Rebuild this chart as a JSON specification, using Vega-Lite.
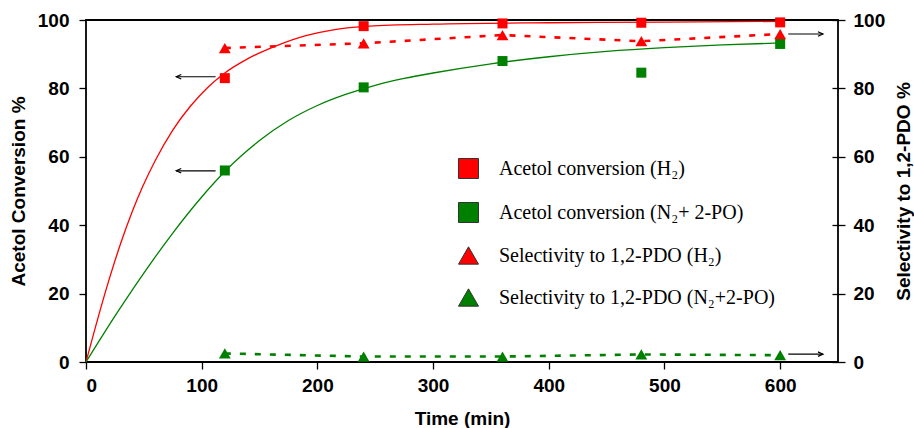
{
  "$schema": "https://vega.github.io/schema/vega-lite/v6.json",
  "width": 752,
  "height": 342,
  "autosize": {"type": "none"},
  "padding": {"left": 86, "top": 20, "right": 76, "bottom": 66},
  "background": "white",
  "datasets": {
    "curves": [
      {"t": 0, "v": 0, "c": "H2"}, {"t": 18, "v": 21.9, "c": "H2"}, {"t": 30, "v": 34.7, "c": "H2"}, {"t": 40, "v": 44, "c": "H2"},
      {"t": 49, "v": 51.3, "c": "H2"}, {"t": 60, "v": 59, "c": "H2"}, {"t": 75, "v": 67.8, "c": "H2"}, {"t": 90, "v": 74.7, "c": "H2"},
      {"t": 105, "v": 80.2, "c": "H2"}, {"t": 120, "v": 84.5, "c": "H2"}, {"t": 140, "v": 88.7, "c": "H2"}, {"t": 165, "v": 92.5, "c": "H2"},
      {"t": 190, "v": 95.4, "c": "H2"}, {"t": 215, "v": 97.2, "c": "H2"}, {"t": 245, "v": 98.2, "c": "H2"}, {"t": 300, "v": 98.8, "c": "H2"},
      {"t": 400, "v": 99.2, "c": "H2"}, {"t": 500, "v": 99.4, "c": "H2"}, {"t": 600, "v": 99.6, "c": "H2"},
      {"t": 0, "v": 0, "c": "N2"}, {"t": 25, "v": 13.4, "c": "N2"}, {"t": 50, "v": 26, "c": "N2"}, {"t": 75, "v": 37.7, "c": "N2"},
      {"t": 100, "v": 48.25, "c": "N2"}, {"t": 120, "v": 55.7, "c": "N2"}, {"t": 135, "v": 60.5, "c": "N2"}, {"t": 150, "v": 64.75, "c": "N2"},
      {"t": 175, "v": 70.6, "c": "N2"}, {"t": 200, "v": 75, "c": "N2"}, {"t": 225, "v": 78.3, "c": "N2"}, {"t": 250, "v": 80.9, "c": "N2"},
      {"t": 275, "v": 82.9, "c": "N2"}, {"t": 300, "v": 84.5, "c": "N2"}, {"t": 350, "v": 87.2, "c": "N2"}, {"t": 400, "v": 89.25, "c": "N2"},
      {"t": 450, "v": 90.8, "c": "N2"}, {"t": 500, "v": 91.9, "c": "N2"}, {"t": 550, "v": 92.7, "c": "N2"}, {"t": 600, "v": 93.3, "c": "N2"}
    ],
    "markers": [
      {"t": 120, "v": 83, "kind": "conv", "gas": "H2", "series": "Acetol conversion (H₂)"},
      {"t": 240, "v": 98.2, "kind": "conv", "gas": "H2", "series": "Acetol conversion (H₂)"},
      {"t": 360, "v": 99, "kind": "conv", "gas": "H2", "series": "Acetol conversion (H₂)"},
      {"t": 480, "v": 99.2, "kind": "conv", "gas": "H2", "series": "Acetol conversion (H₂)"},
      {"t": 600, "v": 99.3, "kind": "conv", "gas": "H2", "series": "Acetol conversion (H₂)"},
      {"t": 120, "v": 56, "kind": "conv", "gas": "N2", "series": "Acetol conversion (N₂+ 2-PO)"},
      {"t": 240, "v": 80.3, "kind": "conv", "gas": "N2", "series": "Acetol conversion (N₂+ 2-PO)"},
      {"t": 360, "v": 88, "kind": "conv", "gas": "N2", "series": "Acetol conversion (N₂+ 2-PO)"},
      {"t": 480, "v": 84.6, "kind": "conv", "gas": "N2", "series": "Acetol conversion (N₂+ 2-PO)"},
      {"t": 600, "v": 93, "kind": "conv", "gas": "N2", "series": "Acetol conversion (N₂+ 2-PO)"},
      {"t": 120, "v": 91.8, "kind": "sel", "gas": "H2", "series": "Selectivity to 1,2-PDO (H₂)"},
      {"t": 240, "v": 93.2, "kind": "sel", "gas": "H2", "series": "Selectivity to 1,2-PDO (H₂)"},
      {"t": 360, "v": 95.6, "kind": "sel", "gas": "H2", "series": "Selectivity to 1,2-PDO (H₂)"},
      {"t": 480, "v": 93.8, "kind": "sel", "gas": "H2", "series": "Selectivity to 1,2-PDO (H₂)"},
      {"t": 600, "v": 95.9, "kind": "sel", "gas": "H2", "series": "Selectivity to 1,2-PDO (H₂)"},
      {"t": 120, "v": 2.5, "kind": "sel", "gas": "N2", "series": "Selectivity to 1,2-PDO (N₂+2-PO)"},
      {"t": 240, "v": 1.6, "kind": "sel", "gas": "N2", "series": "Selectivity to 1,2-PDO (N₂+2-PO)"},
      {"t": 360, "v": 1.6, "kind": "sel", "gas": "N2", "series": "Selectivity to 1,2-PDO (N₂+2-PO)"},
      {"t": 480, "v": 2.2, "kind": "sel", "gas": "N2", "series": "Selectivity to 1,2-PDO (N₂+2-PO)"},
      {"t": 600, "v": 2.0, "kind": "sel", "gas": "N2", "series": "Selectivity to 1,2-PDO (N₂+2-PO)"}
    ],
    "arrows": [
      {"t": 112, "t2": 78, "v": 83.4, "dir": "left"},
      {"t": 112, "t2": 78, "v": 55.9, "dir": "left"},
      {"t": 607, "t2": 637, "v": 95.9, "dir": "right"},
      {"t": 607, "t2": 637, "v": 2.3, "dir": "right"}
    ]
  },
  "layer": [
    {
      "layer": [
        {
          "data": {"name": "curves"},
          "transform": [{"filter": "datum.c === 'H2'"}],
          "mark": {"type": "line", "color": "#ff0000", "strokeWidth": 1.3, "interpolate": "monotone"},
          "encoding": {
            "x": {"field": "t", "type": "quantitative", "scale": {"domain": [0, 650], "nice": false},
                  "axis": {"title": "Time (min)", "values": [0, 100, 200, 300, 400, 500, 600], "labelPadding": 7, "titlePadding": 14}},
            "y": {"field": "v", "type": "quantitative", "scale": {"domain": [0, 100], "nice": false},
                  "axis": {"title": "Acetol Conversion %", "values": [0, 20, 40, 60, 80, 100], "labelPadding": 10, "titlePadding": 9}}
          }
        },
        {
          "data": {"name": "curves"},
          "transform": [{"filter": "datum.c === 'N2'"}],
          "mark": {"type": "line", "color": "#008000", "strokeWidth": 1.3, "interpolate": "monotone"},
          "encoding": {
            "x": {"field": "t", "type": "quantitative"},
            "y": {"field": "v", "type": "quantitative"}
          }
        },
        {
          "data": {"name": "arrows"},
          "transform": [{"filter": "datum.dir === 'left'"}],
          "mark": {"type": "rule", "color": "#000", "strokeWidth": 1.2},
          "encoding": {
            "x": {"field": "t", "type": "quantitative"},
            "x2": {"field": "t2"},
            "y": {"field": "v", "type": "quantitative"}
          }
        },
        {
          "data": {"name": "arrows"},
          "transform": [{"filter": "datum.dir === 'left'"}],
          "mark": {"type": "point", "shape": "M1,-0.45L0,0L1,0.45", "filled": false, "stroke": "#000", "strokeWidth": 1.2, "size": 100, "opacity": 1},
          "encoding": {
            "x": {"field": "t2", "type": "quantitative"},
            "y": {"field": "v", "type": "quantitative"}
          }
        },
        {
          "data": {"name": "markers"},
          "transform": [{"filter": "datum.kind === 'conv'"}],
          "mark": {"type": "point", "filled": true, "size": 100, "opacity": 1},
          "encoding": {
            "x": {"field": "t", "type": "quantitative"},
            "y": {"field": "v", "type": "quantitative"},
            "color": {"field": "series", "type": "nominal", "title": null,
              "scale": {"domain": ["Acetol conversion (H₂)", "Acetol conversion (N₂+ 2-PO)", "Selectivity to 1,2-PDO (H₂)", "Selectivity to 1,2-PDO (N₂+2-PO)"],
                        "range": ["#ff0000", "#008000", "#ff0000", "#008000"]}},
            "shape": {"field": "series", "type": "nominal", "title": null,
              "scale": {"domain": ["Acetol conversion (H₂)", "Acetol conversion (N₂+ 2-PO)", "Selectivity to 1,2-PDO (H₂)", "Selectivity to 1,2-PDO (N₂+2-PO)"],
                        "range": ["square", "square", "triangle-up", "triangle-up"]}}
          }
        }
      ]
    },
    {
      "layer": [
        {
          "data": {"name": "markers"},
          "transform": [{"filter": "datum.kind === 'sel' && datum.gas === 'H2'"}],
          "mark": {"type": "line", "color": "#ff0000", "strokeWidth": 2.6, "strokeDash": [6, 9]},
          "encoding": {
            "x": {"field": "t", "type": "quantitative"},
            "y": {"field": "v", "type": "quantitative", "scale": {"domain": [0, 100], "nice": false},
                  "axis": {"orient": "right", "title": "Selectivity to 1,2-PDO   %", "values": [0, 20, 40, 60, 80, 100],
                           "offset": -6, "tickSize": 13, "labelPadding": 8, "titlePadding": 29, "titleAngle": 270}}
          }
        },
        {
          "data": {"name": "markers"},
          "transform": [{"filter": "datum.kind === 'sel' && datum.gas === 'N2'"}],
          "mark": {"type": "line", "color": "#008000", "strokeWidth": 2.6, "strokeDash": [6, 9]},
          "encoding": {
            "x": {"field": "t", "type": "quantitative"},
            "y": {"field": "v", "type": "quantitative"}
          }
        },
        {
          "data": {"name": "arrows"},
          "transform": [{"filter": "datum.dir === 'right'"}],
          "mark": {"type": "rule", "color": "#000", "strokeWidth": 1.2},
          "encoding": {
            "x": {"field": "t", "type": "quantitative"},
            "x2": {"field": "t2"},
            "y": {"field": "v", "type": "quantitative"}
          }
        },
        {
          "data": {"name": "arrows"},
          "transform": [{"filter": "datum.dir === 'right'"}],
          "mark": {"type": "point", "shape": "M-1,-0.45L0,0L-1,0.45", "filled": false, "stroke": "#000", "strokeWidth": 1.2, "size": 100, "opacity": 1},
          "encoding": {
            "x": {"field": "t2", "type": "quantitative"},
            "y": {"field": "v", "type": "quantitative"}
          }
        },
        {
          "data": {"name": "markers"},
          "transform": [{"filter": "datum.kind === 'sel'"}],
          "mark": {"type": "point", "filled": true, "size": 140, "opacity": 1},
          "encoding": {
            "x": {"field": "t", "type": "quantitative"},
            "y": {"field": "v", "type": "quantitative"},
            "color": {"field": "series", "type": "nominal", "title": null},
            "shape": {"field": "series", "type": "nominal", "title": null}
          }
        }
      ]
    }
  ],
  "resolve": {"scale": {"y": "independent"}},
  "config": {
    "view": {"stroke": "#000", "strokeWidth": 1.8},
    "axis": {
      "grid": false, "domain": false,
      "labelFont": "Liberation Sans", "labelFontWeight": "bold", "labelFontSize": 19, "labelColor": "#000",
      "titleFont": "Liberation Sans", "titleFontWeight": "bold", "titleFontSize": 19, "titleColor": "#000",
      "tickColor": "#000", "tickWidth": 1.3, "tickSize": 7
    },
    "legend": {
      "orient": "none", "legendX": 372, "legendY": 138, "padding": 0,
      "symbolSize": 400, "symbolStrokeColor": "#333", "symbolStrokeWidth": 1,
      "labelFont": "Liberation Serif", "labelFontSize": 20, "labelColor": "#000", "labelOffset": 20,
      "rowPadding": 19, "labelLimit": 400
    }
  }
}
